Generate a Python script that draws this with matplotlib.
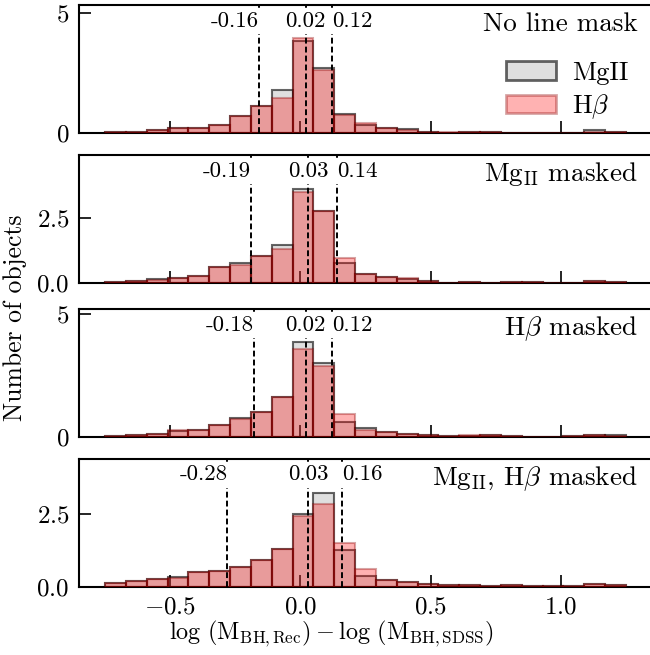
import numpy as np
import matplotlib
matplotlib.use("Agg")
import matplotlib.pyplot as plt
from matplotlib.patches import Patch

plt.rcParams["font.family"] = "serif"
plt.rcParams["font.serif"] = ["cmr10", "DejaVu Serif"]
plt.rcParams["mathtext.fontset"] = "cm"
plt.rcParams["axes.formatter.use_mathtext"] = True
plt.rcParams["axes.unicode_minus"] = True

# histogram bin edges (width 0.08)
edges = np.linspace(-0.75, 1.25, 26)

panel_labels = ["No line mask", r"Mg$_{\rm II}$ masked", r"H$\beta$ masked",
                r"Mg$_{\rm II}$, H$\beta$ masked"]

mg_vals = [
    [0.04, 0.07, 0.14, 0.20, 0.20, 0.35, 0.70, 1.15, 1.79, 3.85, 2.70, 0.80, 0.33,
     0.21, 0.17, 0.07, 0.03, 0.07, 0.04, 0.03, 0.02, 0.02, 0.02, 0.12, 0.05],
    [0.06, 0.10, 0.15, 0.22, 0.26, 0.62, 0.76, 1.03, 1.45, 3.62, 2.78, 0.77, 0.36,
     0.23, 0.18, 0.10, 0.02, 0.06, 0.03, 0.04, 0.04, 0.02, 0.03, 0.08, 0.06],
    [0.04, 0.07, 0.12, 0.23, 0.27, 0.50, 0.79, 1.02, 1.61, 3.86, 3.02, 0.61, 0.35,
     0.20, 0.14, 0.10, 0.03, 0.06, 0.07, 0.06, 0.02, 0.02, 0.04, 0.08, 0.08],
    [0.12, 0.20, 0.25, 0.35, 0.52, 0.54, 0.67, 0.92, 1.30, 2.51, 3.23, 1.27, 0.38,
     0.23, 0.15, 0.09, 0.07, 0.05, 0.03, 0.05, 0.03, 0.03, 0.02, 0.08, 0.07],
]
hb_vals = [
    [0.04, 0.07, 0.14, 0.22, 0.20, 0.36, 0.70, 1.15, 1.47, 3.95, 2.65, 0.78, 0.42,
     0.21, 0.15, 0.07, 0.04, 0.06, 0.04, 0.03, 0.02, 0.02, 0.03, 0.05, 0.06],
    [0.06, 0.10, 0.14, 0.22, 0.26, 0.62, 0.70, 1.03, 1.32, 3.49, 2.78, 0.96, 0.36,
     0.23, 0.20, 0.10, 0.03, 0.06, 0.03, 0.04, 0.04, 0.02, 0.03, 0.08, 0.06],
    [0.04, 0.07, 0.12, 0.27, 0.27, 0.50, 0.72, 1.00, 1.61, 3.58, 2.89, 0.95, 0.30,
     0.20, 0.14, 0.10, 0.03, 0.08, 0.07, 0.06, 0.02, 0.02, 0.04, 0.08, 0.06],
    [0.12, 0.20, 0.25, 0.29, 0.52, 0.54, 0.67, 0.92, 1.30, 2.42, 2.86, 1.50, 0.61,
     0.23, 0.15, 0.09, 0.07, 0.05, 0.03, 0.05, 0.03, 0.03, 0.02, 0.08, 0.07],
]

# 16th / 50th / 84th percentiles shown as dashed lines
pcts = [(-0.16, 0.02, 0.12), (-0.19, 0.03, 0.14), (-0.18, 0.02, 0.12), (-0.28, 0.03, 0.16)]
pct_text = [("-0.16", "0.02", "0.12"), ("-0.19", "0.03", "0.14"),
            ("-0.18", "0.02", "0.12"), ("-0.28", "0.03", "0.16")]

ytops = [5.33, 4.89, 5.2, 4.41]
yticks = [[0, 5], [0, 2.5], [0, 5], [0, 2.5]]

W, H = 650, 655
fig = plt.figure(figsize=(6.5, 6.55), dpi=100)

left_px, right_px = 79, 652
bottoms_px = [133.3, 283.3, 437.0, 586.7]
height_px = 128

mg_fc = (0.5, 0.5, 0.5, 0.25)
mg_ec = (0.0, 0.0, 0.0, 0.6)
hb_fc = (1.0, 0.0, 0.0, 0.3)
hb_ec = (0.55, 0.0, 0.0, 0.35)

axes = []
for i in range(4):
    ax = fig.add_axes([left_px / W, 1 - bottoms_px[i] / H,
                       (right_px - left_px) / W, height_px / H])
    axes.append(ax)
    w = np.diff(edges)
    ax.bar(edges[:-1], mg_vals[i], width=w, align="edge", facecolor=mg_fc,
           edgecolor=mg_ec, linewidth=1.5, zorder=2)
    ax.bar(edges[:-1], hb_vals[i], width=w, align="edge", facecolor=hb_fc,
           edgecolor=hb_ec, linewidth=1.5, zorder=3)

    ha_list = ["right", "center", "left"]
    for v, t, ha in zip(pcts[i], pct_text[i], ha_list):
        ax.axvline(v, color="k", lw=1.4, ls=(0, (3.0, 1.6)), zorder=4)
        ax.text(v, 0.83, t, transform=ax.get_xaxis_transform(), ha=ha,
                va="baseline", fontsize=16.5, zorder=5,
                bbox=dict(facecolor="white", edgecolor="none", pad=2.5))

    ax.text(0.975, 0.797, panel_labels[i], transform=ax.transAxes, ha="right",
            va="baseline", fontsize=19.5, zorder=6)

    ax.set_xlim(-0.85, 1.35)
    ax.set_ylim(0, ytops[i])
    ax.set_yticks(yticks[i])
    ax.set_xticks([-0.5, 0.0, 0.5, 1.0])
    ax.tick_params(direction="in", length=8.5, width=1.2, labelsize=18, pad=7)
    for s in ax.spines.values():
        s.set_linewidth(1.5)
    if i < 3:
        ax.tick_params(labelbottom=False)

handles = [Patch(facecolor=mg_fc, edgecolor=(0, 0, 0, 0.6), linewidth=2),
           Patch(facecolor=hb_fc, edgecolor=(0.55, 0, 0, 0.35), linewidth=2)]
axes[0].legend(handles, ["MgII", r"H$\beta$"], loc="upper right",
               bbox_to_anchor=(0.995, 0.73), frameon=False, fontsize=19,
               handlelength=1.9, handletextpad=0.6, labelspacing=0.3,
               borderpad=0.3)

fig.text(332 / W, 1 - 634 / H,
         r"$\log\,(\rm M_{BH,Rec}) - \log\,(\rm M_{BH,SDSS})$",
         ha="center", va="center", fontsize=17.5)
fig.text(15 / W, 1 - 318 / H, "Number of objects", rotation=90, ha="center",
         va="center", fontsize=18.5)

fig.savefig("out.png", dpi=100)
